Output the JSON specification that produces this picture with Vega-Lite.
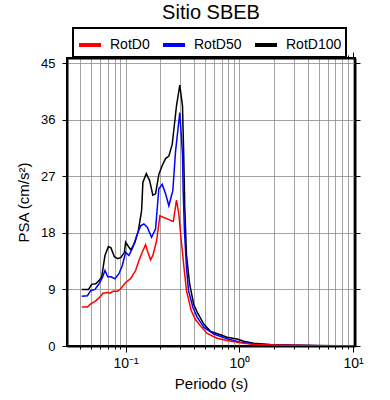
{
  "$schema": "https://vega.github.io/schema/vega-lite/v6.json",
  "autosize": {"type": "none"},
  "padding": {"left": 67, "top": 58, "right": 35, "bottom": 54},
  "width": 288,
  "height": 288,
  "background": "white",
  "title": {"text": "Sitio SBEB", "font": "Liberation Sans", "fontSize": 20, "fontWeight": "normal", "color": "black", "anchor": "middle", "offset": 4},
  "datasets": {
    "psa": [
      {"T": 0.0411, "serie": "RotD100", "psa": 9.0},
      {"T": 0.0471, "serie": "RotD100", "psa": 9.0},
      {"T": 0.0503, "serie": "RotD100", "psa": 9.8},
      {"T": 0.0545, "serie": "RotD100", "psa": 9.9},
      {"T": 0.0583, "serie": "RotD100", "psa": 10.4},
      {"T": 0.0616, "serie": "RotD100", "psa": 11.0},
      {"T": 0.0658, "serie": "RotD100", "psa": 14.4},
      {"T": 0.0705, "serie": "RotD100", "psa": 15.8},
      {"T": 0.0743, "serie": "RotD100", "psa": 15.6},
      {"T": 0.0796, "serie": "RotD100", "psa": 14.2},
      {"T": 0.0851, "serie": "RotD100", "psa": 13.9},
      {"T": 0.091, "serie": "RotD100", "psa": 14.1},
      {"T": 0.0975, "serie": "RotD100", "psa": 14.9},
      {"T": 0.1, "serie": "RotD100", "psa": 16.5},
      {"T": 0.1069, "serie": "RotD100", "psa": 15.7},
      {"T": 0.1112, "serie": "RotD100", "psa": 15.3},
      {"T": 0.1207, "serie": "RotD100", "psa": 16.5},
      {"T": 0.1292, "serie": "RotD100", "psa": 18.3},
      {"T": 0.1381, "serie": "RotD100", "psa": 21.5},
      {"T": 0.1418, "serie": "RotD100", "psa": 26.0},
      {"T": 0.1519, "serie": "RotD100", "psa": 27.4},
      {"T": 0.1625, "serie": "RotD100", "psa": 26.3},
      {"T": 0.1735, "serie": "RotD100", "psa": 24.0},
      {"T": 0.1832, "serie": "RotD100", "psa": 24.2},
      {"T": 0.1959, "serie": "RotD100", "psa": 27.3},
      {"T": 0.2098, "serie": "RotD100", "psa": 28.7},
      {"T": 0.2244, "serie": "RotD100", "psa": 29.8},
      {"T": 0.2399, "serie": "RotD100", "psa": 30.2},
      {"T": 0.257, "serie": "RotD100", "psa": 32.1},
      {"T": 0.28, "serie": "RotD100", "psa": 38.2},
      {"T": 0.2994, "serie": "RotD100", "psa": 41.5},
      {"T": 0.3162, "serie": "RotD100", "psa": 38.2},
      {"T": 0.3245, "serie": "RotD100", "psa": 30.0},
      {"T": 0.3311, "serie": "RotD100", "psa": 22.0},
      {"T": 0.3428, "serie": "RotD100", "psa": 14.5},
      {"T": 0.365, "serie": "RotD100", "psa": 9.9},
      {"T": 0.3972, "serie": "RotD100", "psa": 6.6},
      {"T": 0.4256, "serie": "RotD100", "psa": 5.4},
      {"T": 0.4864, "serie": "RotD100", "psa": 3.5},
      {"T": 0.56, "serie": "RotD100", "psa": 2.3},
      {"T": 0.6808, "serie": "RotD100", "psa": 1.8},
      {"T": 0.7798, "serie": "RotD100", "psa": 1.4},
      {"T": 0.955, "serie": "RotD100", "psa": 1.1},
      {"T": 1.09, "serie": "RotD100", "psa": 0.76},
      {"T": 1.334, "serie": "RotD100", "psa": 0.44},
      {"T": 1.87, "serie": "RotD100", "psa": 0.24},
      {"T": 2.5, "serie": "RotD100", "psa": 0.15},
      {"T": 3.5, "serie": "RotD100", "psa": 0.1},
      {"T": 5, "serie": "RotD100", "psa": 0.07},
      {"T": 7, "serie": "RotD100", "psa": 0.05},
      {"T": 10, "serie": "RotD100", "psa": 0.04},
      {"T": 0.0411, "serie": "RotD50", "psa": 7.9},
      {"T": 0.0461, "serie": "RotD50", "psa": 8.0},
      {"T": 0.0493, "serie": "RotD50", "psa": 8.8},
      {"T": 0.0538, "serie": "RotD50", "psa": 9.0},
      {"T": 0.0583, "serie": "RotD50", "psa": 9.9},
      {"T": 0.0625, "serie": "RotD50", "psa": 10.9},
      {"T": 0.0658, "serie": "RotD50", "psa": 12.0},
      {"T": 0.0695, "serie": "RotD50", "psa": 11.0},
      {"T": 0.0743, "serie": "RotD50", "psa": 11.0},
      {"T": 0.0805, "serie": "RotD50", "psa": 10.7},
      {"T": 0.0873, "serie": "RotD50", "psa": 11.5},
      {"T": 0.0935, "serie": "RotD50", "psa": 12.8},
      {"T": 0.1, "serie": "RotD50", "psa": 14.9},
      {"T": 0.1069, "serie": "RotD50", "psa": 14.4},
      {"T": 0.1158, "serie": "RotD50", "psa": 15.7},
      {"T": 0.1267, "serie": "RotD50", "psa": 17.8},
      {"T": 0.1354, "serie": "RotD50", "psa": 19.1},
      {"T": 0.1447, "serie": "RotD50", "psa": 19.4},
      {"T": 0.155, "serie": "RotD50", "psa": 18.9},
      {"T": 0.169, "serie": "RotD50", "psa": 17.3},
      {"T": 0.1832, "serie": "RotD50", "psa": 18.6},
      {"T": 0.1959, "serie": "RotD50", "psa": 25.0},
      {"T": 0.2098, "serie": "RotD50", "psa": 25.7},
      {"T": 0.2244, "serie": "RotD50", "psa": 24.2},
      {"T": 0.2399, "serie": "RotD50", "psa": 22.3},
      {"T": 0.26, "serie": "RotD50", "psa": 24.7},
      {"T": 0.2748, "serie": "RotD50", "psa": 31.0},
      {"T": 0.2994, "serie": "RotD50", "psa": 37.1},
      {"T": 0.3162, "serie": "RotD50", "psa": 30.5},
      {"T": 0.3206, "serie": "RotD50", "psa": 24.7},
      {"T": 0.3289, "serie": "RotD50", "psa": 18.3},
      {"T": 0.3428, "serie": "RotD50", "psa": 12.5},
      {"T": 0.357, "serie": "RotD50", "psa": 8.8},
      {"T": 0.3926, "serie": "RotD50", "psa": 6.0},
      {"T": 0.4256, "serie": "RotD50", "psa": 4.6},
      {"T": 0.4864, "serie": "RotD50", "psa": 3.0},
      {"T": 0.5957, "serie": "RotD50", "psa": 1.9},
      {"T": 0.7798, "serie": "RotD50", "psa": 1.14},
      {"T": 1.02, "serie": "RotD50", "psa": 0.6},
      {"T": 1.528, "serie": "RotD50", "psa": 0.24},
      {"T": 2.5, "serie": "RotD50", "psa": 0.12},
      {"T": 3.5, "serie": "RotD50", "psa": 0.08},
      {"T": 5, "serie": "RotD50", "psa": 0.05},
      {"T": 7, "serie": "RotD50", "psa": 0.04},
      {"T": 10, "serie": "RotD50", "psa": 0.03},
      {"T": 0.0411, "serie": "RotD0", "psa": 6.2},
      {"T": 0.0461, "serie": "RotD0", "psa": 6.2},
      {"T": 0.0493, "serie": "RotD0", "psa": 6.7},
      {"T": 0.0538, "serie": "RotD0", "psa": 7.1},
      {"T": 0.0583, "serie": "RotD0", "psa": 7.65},
      {"T": 0.0632, "serie": "RotD0", "psa": 8.4},
      {"T": 0.0691, "serie": "RotD0", "psa": 8.5},
      {"T": 0.0728, "serie": "RotD0", "psa": 8.4},
      {"T": 0.0774, "serie": "RotD0", "psa": 8.7},
      {"T": 0.0845, "serie": "RotD0", "psa": 8.7},
      {"T": 0.0904, "serie": "RotD0", "psa": 9.1},
      {"T": 0.1, "serie": "RotD0", "psa": 10.1},
      {"T": 0.1106, "serie": "RotD0", "psa": 10.7},
      {"T": 0.1224, "serie": "RotD0", "psa": 12.0},
      {"T": 0.1309, "serie": "RotD0", "psa": 13.6},
      {"T": 0.14, "serie": "RotD0", "psa": 14.9},
      {"T": 0.1497, "serie": "RotD0", "psa": 16.1},
      {"T": 0.155, "serie": "RotD0", "psa": 15.2},
      {"T": 0.1656, "serie": "RotD0", "psa": 13.7},
      {"T": 0.1735, "serie": "RotD0", "psa": 14.4},
      {"T": 0.187, "serie": "RotD0", "psa": 16.7},
      {"T": 0.2, "serie": "RotD0", "psa": 20.7},
      {"T": 0.2624, "serie": "RotD0", "psa": 19.8},
      {"T": 0.28, "serie": "RotD0", "psa": 23.2},
      {"T": 0.2936, "serie": "RotD0", "psa": 21.0},
      {"T": 0.3035, "serie": "RotD0", "psa": 18.1},
      {"T": 0.3245, "serie": "RotD0", "psa": 12.8},
      {"T": 0.3428, "serie": "RotD0", "psa": 8.8},
      {"T": 0.378, "serie": "RotD0", "psa": 5.6},
      {"T": 0.4111, "serie": "RotD0", "psa": 4.2},
      {"T": 0.455, "serie": "RotD0", "psa": 3.2},
      {"T": 0.5208, "serie": "RotD0", "psa": 2.0},
      {"T": 0.6368, "serie": "RotD0", "psa": 1.24},
      {"T": 0.7798, "serie": "RotD0", "psa": 0.87},
      {"T": 1.02, "serie": "RotD0", "psa": 0.5},
      {"T": 1.334, "serie": "RotD0", "psa": 0.24},
      {"T": 2.5, "serie": "RotD0", "psa": 0.1},
      {"T": 3.5, "serie": "RotD0", "psa": 0.06},
      {"T": 5, "serie": "RotD0", "psa": 0.04},
      {"T": 7, "serie": "RotD0", "psa": 0.03},
      {"T": 10, "serie": "RotD0", "psa": 0.02}
    ]
  },
  "data": {"name": "psa"},
  "layer": [
    {
      "transform": [{"filter": "datum.serie == 'RotD100'"}],
      "mark": {"type": "line", "strokeWidth": 1.5, "clip": true},
      "encoding": {
        "x": {
          "field": "T", "type": "quantitative",
          "scale": {"type": "log", "domain": [0.0305, 10.4], "nice": false},
          "axis": {
            "orient": "bottom",
            "values": [0.04, 0.05, 0.06, 0.07, 0.08, 0.09, 0.1, 0.2, 0.3, 0.4, 0.5, 0.6, 0.7, 0.8, 0.9, 1, 2, 3, 4, 5, 6, 7, 8, 9, 10],
            "labelExpr": "datum.value == 0.1 ? '10⁻¹' : datum.value == 1 ? '10⁰' : datum.value == 10 ? '10¹' : ''",
            "labelOverlap": false,
            "labelBound": false,
            "labelFlush": false,
            "labelFontSize": 14,
            "grid": true,
            "tickSize": {"condition": {"test": "datum.value == 0.1 || datum.value == 1 || datum.value == 10", "value": 6}, "value": 3},
            "labelPadding": 4,
            "title": "Periodo (s)",
            "titlePadding": 6
          }
        },
        "y": {
          "field": "psa", "type": "quantitative",
          "scale": {"domain": [0, 45.8], "nice": false, "zero": true},
          "axis": {
            "orient": "left",
            "values": [0, 9, 18, 27, 36, 45],
            "grid": true,
            "tickSize": 5,
            "labelPadding": 7,
            "title": "PSA (cm/s²)",
            "titlePadding": 9
          }
        },
        "color": {
          "field": "serie", "type": "nominal",
          "scale": {"domain": ["RotD0", "RotD50", "RotD100"], "range": ["#ff0000", "#0000ff", "#000000"]},
          "legend": {
            "orient": "none", "legendX": 6, "legendY": -30,
            "direction": "horizontal", "columns": 3,
            "title": null,
            "symbolType": "stroke", "symbolStrokeWidth": 4, "symbolSize": 484,
            "labelFont": "Liberation Sans", "labelFontSize": 14, "labelColor": "black",
            "labelOffset": 7, "columnPadding": 5, "padding": 4,
            "strokeColor": "black", "fillColor": "white"
          }
        }
      }
    },
    {
      "transform": [{"filter": "datum.serie == 'RotD50'"}],
      "mark": {"type": "line", "strokeWidth": 1.5, "clip": true},
      "encoding": {
        "x": {
          "field": "T", "type": "quantitative",
          "scale": {"type": "log", "domain": [0.0305, 10.4], "nice": false},
          "axis": {
            "orient": "top",
            "values": [0.04, 0.05, 0.06, 0.07, 0.08, 0.09, 0.1, 0.2, 0.3, 0.4, 0.5, 0.6, 0.7, 0.8, 0.9, 1, 2, 3, 4, 5, 6, 7, 8, 9, 10],
            "labels": false,
            "grid": false,
            "tickSize": {"condition": {"test": "datum.value == 0.1 || datum.value == 1 || datum.value == 10", "value": 6}, "value": 3},
            "title": null
          }
        },
        "y": {
          "field": "psa", "type": "quantitative",
          "scale": {"domain": [0, 45.8], "nice": false, "zero": true},
          "axis": {
            "orient": "right",
            "values": [0, 9, 18, 27, 36, 45],
            "labels": false,
            "grid": false,
            "tickSize": 5,
            "title": null
          }
        },
        "color": {"field": "serie", "type": "nominal"}
      }
    },
    {
      "transform": [{"filter": "datum.serie == 'RotD0'"}],
      "mark": {"type": "line", "strokeWidth": 1.5, "clip": true},
      "encoding": {
        "x": {"field": "T", "type": "quantitative", "axis": null},
        "y": {"field": "psa", "type": "quantitative", "axis": null},
        "color": {"field": "serie", "type": "nominal"}
      }
    }
  ],
  "resolve": {"axis": {"x": "independent", "y": "independent"}},
  "config": {
    "view": {"stroke": "black", "strokeWidth": 2},
    "font": "Liberation Sans",
    "axis": {
      "domain": true, "domainColor": "black", "domainWidth": 2,
      "gridColor": "#8c8c8c", "gridWidth": 0.8, "gridOpacity": 1,
      "tickColor": "black", "tickWidth": 1,
      "labelFont": "Liberation Sans", "labelFontSize": 13, "labelColor": "black",
      "titleFont": "Liberation Sans", "titleFontSize": 15, "titleFontWeight": "normal", "titleColor": "black"
    },
    "legend": {"strokeWidth": 2}
  }
}
